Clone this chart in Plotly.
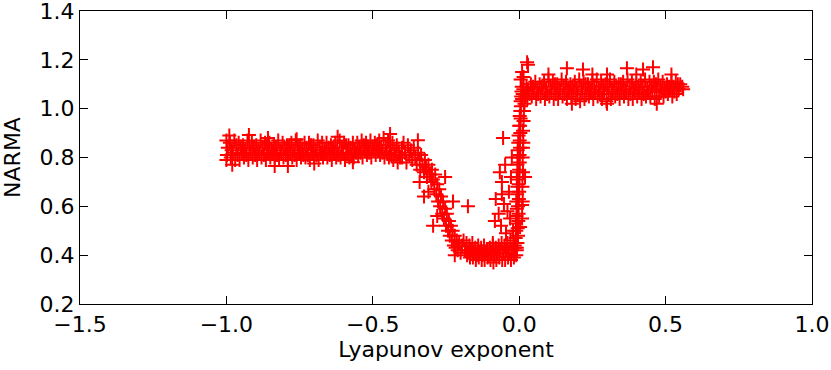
import plotly.graph_objects as go

# Left plateau (chaotic side far from edge)
left_x = [-1.000, -0.988, -0.973, -0.958, -0.943, -0.928, -0.913, -0.898, -0.883, -0.868,
          -0.853, -0.838, -0.823, -0.808, -0.793, -0.778, -0.763, -0.748, -0.733, -0.718,
          -0.703, -0.688, -0.673, -0.658, -0.643, -0.628, -0.613, -0.598, -0.583, -0.568,
          -0.553, -0.538, -0.523, -0.508, -0.493, -0.478, -0.463, -0.448, -0.433, -0.418,
          -0.995, -0.982, -0.966, -0.951, -0.936, -0.921, -0.906, -0.891, -0.876, -0.861,
          -0.846, -0.831, -0.816, -0.801, -0.786, -0.771, -0.756, -0.741, -0.726, -0.711,
          -0.696, -0.681, -0.666, -0.651, -0.636, -0.621, -0.606, -0.591, -0.576, -0.561,
          -0.546, -0.531, -0.516, -0.501, -0.486, -0.471, -0.456, -0.441, -0.426, -0.411,
          -0.998, -0.978, -0.962, -0.947, -0.932, -0.917, -0.902, -0.887, -0.872, -0.857,
          -0.842, -0.827, -0.812, -0.797, -0.782, -0.767, -0.752, -0.737, -0.722, -0.707,
          -0.692, -0.677, -0.662, -0.647, -0.632, -0.617, -0.602, -0.587, -0.572, -0.557,
          -0.542, -0.527, -0.512, -0.497, -0.482, -0.467, -0.452, -0.437, -0.422, -0.407,
          -1.000, -0.985, -0.970, -0.955, -0.940, -0.925, -0.910, -0.895, -0.880, -0.865,
          -0.850, -0.835, -0.820, -0.805, -0.790, -0.775, -0.760, -0.745, -0.730, -0.715,
          -0.700, -0.685, -0.670, -0.655, -0.640, -0.625, -0.610, -0.595, -0.580, -0.565,
          -0.550, -0.535, -0.520, -0.505, -0.490, -0.475, -0.460, -0.445, -0.430, -0.415]
left_y = [0.87, 0.86, 0.87, 0.86, 0.85, 0.87, 0.86, 0.85, 0.87, 0.86,
          0.86, 0.85, 0.87, 0.86, 0.85, 0.86, 0.87, 0.85, 0.86, 0.86,
          0.85, 0.87, 0.86, 0.86, 0.85, 0.86, 0.87, 0.86, 0.85, 0.86,
          0.86, 0.87, 0.86, 0.87, 0.86, 0.87, 0.88, 0.87, 0.86, 0.85,
          0.84, 0.83, 0.85, 0.84, 0.83, 0.84, 0.84, 0.83, 0.84, 0.85,
          0.83, 0.84, 0.83, 0.84, 0.85, 0.83, 0.84, 0.83, 0.84, 0.85,
          0.83, 0.84, 0.83, 0.84, 0.84, 0.83, 0.84, 0.85, 0.84, 0.83,
          0.84, 0.85, 0.84, 0.84, 0.85, 0.84, 0.85, 0.84, 0.83, 0.82,
          0.81, 0.82, 0.81, 0.82, 0.81, 0.82, 0.81, 0.82, 0.81, 0.82,
          0.82, 0.81, 0.82, 0.81, 0.82, 0.81, 0.82, 0.81, 0.81, 0.82,
          0.81, 0.82, 0.82, 0.81, 0.82, 0.81, 0.82, 0.82, 0.81, 0.82,
          0.82, 0.83, 0.82, 0.83, 0.83, 0.82, 0.82, 0.81, 0.81, 0.80,
          0.79, 0.80, 0.79, 0.79, 0.80, 0.79, 0.80, 0.79, 0.80, 0.79,
          0.80, 0.80, 0.79, 0.80, 0.79, 0.80, 0.79, 0.80, 0.80, 0.79,
          0.80, 0.79, 0.80, 0.80, 0.79, 0.80, 0.80, 0.79, 0.80, 0.80,
          0.81, 0.80, 0.81, 0.80, 0.81, 0.81, 0.80, 0.80, 0.79, 0.78]
left_out_x = [-0.99, -0.923, -0.858, -0.76, -0.62, -0.441, -0.346, -0.98, -0.835, -0.79, -0.568, -0.70]
left_out_y = [0.89, 0.892, 0.88, 0.875, 0.885, 0.896, 0.871, 0.77, 0.765, 0.765, 0.781, 0.775]

# Drop towards the edge of chaos
drop_x = [-0.40, -0.40, -0.395, -0.39, -0.385, -0.38, -0.375, -0.37, -0.365, -0.36,
          -0.355, -0.35, -0.345, -0.34, -0.338, -0.335, -0.33, -0.325, -0.322, -0.318,
          -0.315, -0.31, -0.305, -0.30, -0.298, -0.295, -0.29, -0.287, -0.283, -0.28,
          -0.277, -0.273, -0.27, -0.267, -0.263, -0.26, -0.257, -0.253, -0.25, -0.247,
          -0.243, -0.24, -0.237, -0.233, -0.23, -0.227, -0.223, -0.22, -0.217, -0.213,
          -0.21, -0.205, -0.20, -0.195,
          -0.325, -0.294, -0.253, -0.226, -0.175, -0.22, -0.34, -0.31, -0.28]
drop_y = [0.84, 0.80, 0.86, 0.82, 0.78, 0.85, 0.81, 0.83, 0.79, 0.84,
          0.80, 0.77, 0.82, 0.79, 0.75, 0.81, 0.77, 0.74, 0.79, 0.76,
          0.72, 0.77, 0.73, 0.70, 0.75, 0.71, 0.67, 0.73, 0.65, 0.69,
          0.62, 0.67, 0.60, 0.64, 0.57, 0.62, 0.55, 0.59, 0.52, 0.57,
          0.50, 0.54, 0.48, 0.52, 0.46, 0.50, 0.44, 0.48, 0.43, 0.46,
          0.42, 0.45, 0.41, 0.44,
          0.64, 0.52, 0.72, 0.62, 0.60, 0.40, 0.70, 0.66, 0.56]

# Trough just below zero
trough_x = [-0.19, -0.18, -0.17, -0.16, -0.15, -0.14, -0.13, -0.12, -0.11, -0.10,
            -0.09, -0.08, -0.07, -0.06, -0.05, -0.04, -0.03, -0.02,
            -0.185, -0.175, -0.165, -0.155, -0.145, -0.135, -0.125, -0.115, -0.105, -0.095,
            -0.085, -0.075, -0.065, -0.055, -0.045, -0.035, -0.025, -0.015,
            -0.178, -0.168, -0.158, -0.148, -0.138, -0.128, -0.118, -0.108, -0.098, -0.088,
            -0.078, -0.068, -0.058, -0.048, -0.038, -0.028, -0.018, -0.010]
trough_y = [0.46, 0.45, 0.44, 0.45, 0.43, 0.44, 0.43, 0.44, 0.42, 0.43,
            0.44, 0.43, 0.44, 0.45, 0.44, 0.45, 0.46, 0.45,
            0.42, 0.41, 0.42, 0.41, 0.40, 0.41, 0.40, 0.41, 0.40, 0.41,
            0.40, 0.41, 0.42, 0.41, 0.42, 0.41, 0.42, 0.43,
            0.40, 0.39, 0.39, 0.38, 0.39, 0.38, 0.38, 0.39, 0.38, 0.37,
            0.38, 0.39, 0.38, 0.38, 0.39, 0.38, 0.39, 0.40]

# Steep rise at the edge of chaos
rise_x = [-0.008, -0.006, -0.004, -0.005, -0.003, -0.002, -0.004, -0.001, 0.000, -0.002,
          0.001, 0.000, 0.002, 0.001, 0.003, 0.002, 0.004, 0.003, 0.005, 0.004,
          0.006, 0.005, 0.007, 0.008, 0.009, 0.010, 0.012, 0.014,
          -0.015, -0.012, -0.010, -0.011, -0.009, -0.008, -0.010, -0.007, -0.006, -0.008,
          -0.005, -0.006, -0.004, -0.005, -0.003, -0.002, 0.000, 0.002,
          0.010, 0.012, 0.011, 0.013, 0.012, 0.014, 0.013, 0.015, 0.016, 0.018, 0.020]
rise_y = [0.42, 0.45, 0.48, 0.51, 0.54, 0.57, 0.60, 0.63, 0.66, 0.69,
          0.72, 0.75, 0.78, 0.81, 0.84, 0.87, 0.90, 0.93, 0.96, 0.99,
          1.01, 1.03, 1.05, 1.07, 1.09, 1.04, 1.06, 1.08,
          0.44, 0.47, 0.50, 0.53, 0.56, 0.59, 0.62, 0.65, 0.68, 0.71,
          0.74, 0.77, 0.80, 0.83, 0.86, 0.89, 0.93, 0.97,
          0.55, 0.62, 0.68, 0.74, 0.80, 0.86, 0.91, 0.95, 0.99, 1.02, 1.05]
scatter_x = [-0.055, -0.048, -0.066, -0.059, -0.059, -0.08, -0.052, -0.083, -0.062, -0.031,
             -0.021, -0.09, -0.04, -0.035, -0.028, -0.07, -0.045, -0.025, 0.013, 0.02,
             0.01, 0.003, -0.008, 0.027, 0.01, 0.03, 0.005, 0.015]
scatter_y = [0.88, 0.77, 0.74, 0.70, 0.65, 0.63, 0.61, 0.54, 0.52, 0.55,
             0.50, 0.45, 0.58, 0.66, 0.72, 0.57, 0.49, 0.80, 0.84, 0.72,
             0.605, 0.515, 0.43, 1.19, 1.15, 1.18, 1.12, 1.13]

# Right plateau (ordered side)
right_x = [0.025, 0.040, 0.055, 0.070, 0.085, 0.100, 0.115, 0.130, 0.145, 0.160,
           0.175, 0.190, 0.205, 0.220, 0.235, 0.250, 0.265, 0.280, 0.295, 0.310,
           0.325, 0.340, 0.355, 0.370, 0.385, 0.400, 0.415, 0.430, 0.445, 0.460,
           0.475, 0.490, 0.505, 0.520, 0.535, 0.550,
           0.030, 0.047, 0.062, 0.077, 0.092, 0.107, 0.122, 0.137, 0.152, 0.167,
           0.182, 0.197, 0.212, 0.227, 0.242, 0.257, 0.272, 0.287, 0.302, 0.317,
           0.332, 0.347, 0.362, 0.377, 0.392, 0.407, 0.422, 0.437, 0.452, 0.467,
           0.482, 0.497, 0.512, 0.527, 0.542, 0.557,
           0.035, 0.050, 0.065, 0.080, 0.095, 0.110, 0.125, 0.140, 0.155, 0.170,
           0.185, 0.200, 0.215, 0.230, 0.245, 0.260, 0.275, 0.290, 0.305, 0.320,
           0.335, 0.350, 0.365, 0.380, 0.395, 0.410, 0.425, 0.440, 0.455, 0.470,
           0.485, 0.500, 0.515, 0.530, 0.545, 0.560,
           0.028, 0.043, 0.058, 0.073, 0.088, 0.103, 0.118, 0.133, 0.148, 0.163,
           0.178, 0.193, 0.208, 0.223, 0.238, 0.253, 0.268, 0.283, 0.298, 0.313,
           0.328, 0.343, 0.358, 0.373, 0.388, 0.403, 0.418, 0.433, 0.448, 0.463,
           0.478, 0.493, 0.508, 0.523, 0.538]
right_y = [1.09, 1.10, 1.11, 1.10, 1.11, 1.12, 1.11, 1.10, 1.12, 1.11,
           1.10, 1.11, 1.12, 1.11, 1.10, 1.11, 1.12, 1.11, 1.10, 1.12,
           1.11, 1.10, 1.11, 1.12, 1.11, 1.10, 1.11, 1.12, 1.11, 1.11,
           1.12, 1.11, 1.10, 1.11, 1.11, 1.10,
           1.08, 1.09, 1.08, 1.09, 1.08, 1.09, 1.10, 1.08, 1.09, 1.08,
           1.09, 1.08, 1.09, 1.10, 1.08, 1.09, 1.08, 1.09, 1.09, 1.08,
           1.09, 1.10, 1.08, 1.09, 1.08, 1.09, 1.09, 1.08, 1.09, 1.10,
           1.09, 1.08, 1.09, 1.09, 1.10, 1.09,
           1.06, 1.07, 1.06, 1.07, 1.06, 1.07, 1.06, 1.07, 1.06, 1.07,
           1.07, 1.06, 1.07, 1.06, 1.07, 1.07, 1.06, 1.07, 1.06, 1.07,
           1.06, 1.07, 1.07, 1.06, 1.07, 1.07, 1.06, 1.07, 1.07, 1.08,
           1.07, 1.07, 1.08, 1.07, 1.08, 1.08,
           1.04, 1.05, 1.04, 1.05, 1.04, 1.05, 1.04, 1.04, 1.05, 1.04,
           1.05, 1.04, 1.03, 1.04, 1.05, 1.04, 1.05, 1.04, 1.03, 1.04,
           1.05, 1.04, 1.05, 1.04, 1.04, 1.05, 1.04, 1.05, 1.05, 1.04,
           1.05, 1.05, 1.06, 1.05, 1.06]
right_out_x = [0.163, 0.218, 0.368, 0.423, 0.457, 0.10, 0.25, 0.30, 0.52, 0.47, 0.30, 0.18, 0.40]
right_out_y = [1.166, 1.16, 1.166, 1.16, 1.17, 1.14, 1.14, 1.14, 1.14, 1.02, 1.02, 1.02, 1.14]

x_ticks = [-1.5, -1.0, -0.5, 0.0, 0.5, 1.0]
y_ticks = [0.2, 0.4, 0.6, 0.8, 1.0, 1.2, 1.4]

xs = left_x + left_out_x + drop_x + trough_x + rise_x + scatter_x + right_x + right_out_x
ys = left_y + left_out_y + drop_y + trough_y + rise_y + scatter_y + right_y + right_out_y

fig = go.Figure()
fig.add_trace(go.Scatter(
    x=xs, y=ys, mode='markers',
    marker=dict(symbol='cross-thin', size=10, line=dict(color='red', width=2), color='red'),
    showlegend=False
))

axis_style = dict(showline=True, linecolor='black', linewidth=1.3, mirror='allticks',
                  ticks='inside', ticklen=8, tickwidth=1, tickcolor='black',
                  showgrid=False, zeroline=False, automargin=False, ticklabeloverflow='allow',
                  tickfont=dict(size=22, color='black'), tickformat='.1f')

fig.update_layout(
    width=831, height=370,
    margin=dict(l=80, r=19, t=11, b=66),
    paper_bgcolor='white', plot_bgcolor='white',
    font=dict(family='DejaVu Sans', size=22, color='black'),
    xaxis=dict(range=[-1.5, 1.0001], tickvals=x_ticks,
               title=dict(text='Lyapunov exponent', standoff=0, font=dict(size=22)), **axis_style),
    yaxis=dict(range=[0.2, 1.4001], tickvals=y_ticks,
               title=dict(text='NARMA', standoff=12, font=dict(size=22)), **axis_style),
)

# drop the browser's default 8px page margin so the figure sits at the top-left corner
fig.write_html("out.html", config={'displayModeBar': False},
               post_script="document.body.style.margin='0px';")
